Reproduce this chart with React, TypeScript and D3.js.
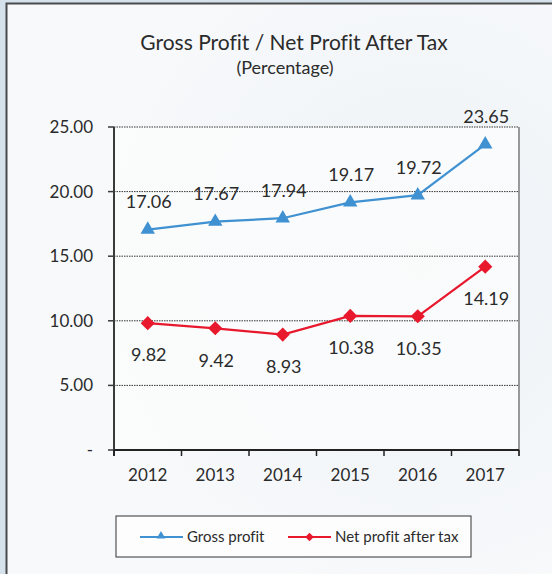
import * as d3 from 'd3';

const years = ['2012', '2013', '2014', '2015', '2016', '2017'];
const grossProfit = [17.06, 17.67, 17.94, 19.17, 19.72, 23.65];
const netProfit = [9.82, 9.42, 8.93, 10.38, 10.35, 14.19];
const yTicks = [0, 5, 10, 15, 20, 25];

const W = 552;
const H = 574;
const font = 'Lato, "Open Sans", sans-serif';
const blue = '#3f91d2';
const red = '#e8182d';
const ink = '#2b2b2b';

const plot = { left: 114, right: 519, top: 127, bottom: 450 };

export default function App() {
  const x = d3.scaleBand<string>().domain(years).range([plot.left, plot.right]);
  const y = d3.scaleLinear().domain([0, 25]).range([plot.bottom, plot.top]);
  const cx = (yr: string) => x(yr)! + x.bandwidth() / 2;

  const line = d3
    .line<number>()
    .x((_, i) => cx(years[i]))
    .y((d) => y(d));

  const tri = d3.symbol(d3.symbolTriangle, 90)()!;
  const dia = d3.symbol(d3.symbolSquare, 100)()!;
  const triSmall = d3.symbol(d3.symbolTriangle, 34)()!;
  const diaSmall = d3.symbol(d3.symbolSquare, 36)()!;

  return (
    <svg
      width={W}
      height={H}
      style={{ position: 'absolute', left: 0, top: 0, display: 'block', fontVariantLigatures: 'none' }}
      fontFamily={font}
    >
      <defs>
        <radialGradient id="glow" cx="0.75" cy="0.45" r="0.6">
          <stop offset="0" stopColor="#eef2f6" />
          <stop offset="1" stopColor="#f7f9fb" />
        </radialGradient>
      </defs>
      <rect width={W} height={H} fill="#d6e2eb" />
      <rect x={7} y={4} width={W} height={H} fill="url(#glow)" />
      <path d={`M6.5,${H} V3.5 H${W}`} fill="none" stroke="#4a4a4a" strokeWidth={2} />

      <text x={294} y={50} textAnchor="middle" fontSize={21} fill={ink}>
        Gross Profit / Net Profit After Tax
      </text>
      <text x={285} y={74} textAnchor="middle" fontSize={18} fill={ink}>
        (Percentage)
      </text>

      <rect
        x={plot.left}
        y={plot.top}
        width={plot.right - plot.left}
        height={plot.bottom - plot.top}
        fill="#fbfcfd"
        opacity={0.8}
      />

      {/* gridlines */}
      {yTicks.slice(1).map((t) => (
        <line
          key={t}
          x1={plot.left}
          x2={plot.right}
          y1={y(t)}
          y2={y(t)}
          stroke="#333"
          strokeWidth={1}
          strokeDasharray="1.5,1"
        />
      ))}
      <line x1={plot.right} x2={plot.right} y1={plot.top} y2={plot.bottom + 6} stroke="#999" strokeWidth={2} />

      {/* y axis */}
      <line x1={plot.left} x2={plot.left} y1={plot.top} y2={plot.bottom + 6} stroke="#3a3a3a" strokeWidth={2} />
      {yTicks.map((t) => (
        <g key={t}>
          <line x1={plot.left - 6} x2={plot.left} y1={y(t)} y2={y(t)} stroke="#3a3a3a" strokeWidth={1.5} />
          <text x={93} y={y(t)} dy="0.35em" textAnchor="end" fontSize={17} fill={ink}>
            {t === 0 ? '-' : d3.format('.2f')(t)}
          </text>
        </g>
      ))}

      {/* x axis */}
      <line x1={plot.left} x2={plot.right} y1={plot.bottom} y2={plot.bottom} stroke="#222" strokeWidth={2} />
      {[...years.map((yr) => x(yr)!), plot.right].map((px, i) => (
        <line key={i} x1={px} x2={px} y1={plot.bottom} y2={plot.bottom + 6} stroke="#222" strokeWidth={1.5} />
      ))}
      {years.map((yr) => (
        <text key={yr} x={cx(yr)} y={481} textAnchor="middle" fontSize={17} fill={ink}>
          {yr}
        </text>
      ))}

      {/* series */}
      <path d={line(grossProfit)!} fill="none" stroke={blue} strokeWidth={2.2} />
      <path d={line(netProfit)!} fill="none" stroke={red} strokeWidth={2.2} />
      {grossProfit.map((v, i) => (
        <g key={`g${i}`}>
          <path d={tri} transform={`translate(${cx(years[i])},${y(v)})`} fill={blue} />
          <text x={cx(years[i]) + 1} y={y(v) - 28} dy="0.35em" textAnchor="middle" fontSize={18} fill={ink}>
            {v.toFixed(2)}
          </text>
        </g>
      ))}
      {netProfit.map((v, i) => (
        <g key={`n${i}`}>
          <path d={dia} transform={`translate(${cx(years[i])},${y(v)}) rotate(45)`} fill={red} />
          <text x={cx(years[i]) + 1} y={y(v) + 32} dy="0.35em" textAnchor="middle" fontSize={18} fill={ink}>
            {v.toFixed(2)}
          </text>
        </g>
      ))}

      {/* legend */}
      <rect x={116} y={516} width={355} height={41} fill="#fdfdfe" stroke="#333" strokeWidth={1} />
      <line x1={140} x2={183} y1={537} y2={537} stroke={blue} strokeWidth={2.2} />
      <path d={triSmall} transform="translate(161,536)" fill={blue} />
      <text x={187} y={537} dy="0.35em" fontSize={15} fill={ink}>
        Gross profit
      </text>
      <line x1={288} x2={331} y1={537} y2={537} stroke={red} strokeWidth={2.2} />
      <path d={diaSmall} transform="translate(309.5,537) rotate(45)" fill={red} />
      <text x={335} y={537} dy="0.35em" fontSize={15} fill={ink}>
        Net profit after tax
      </text>
    </svg>
  );
}
